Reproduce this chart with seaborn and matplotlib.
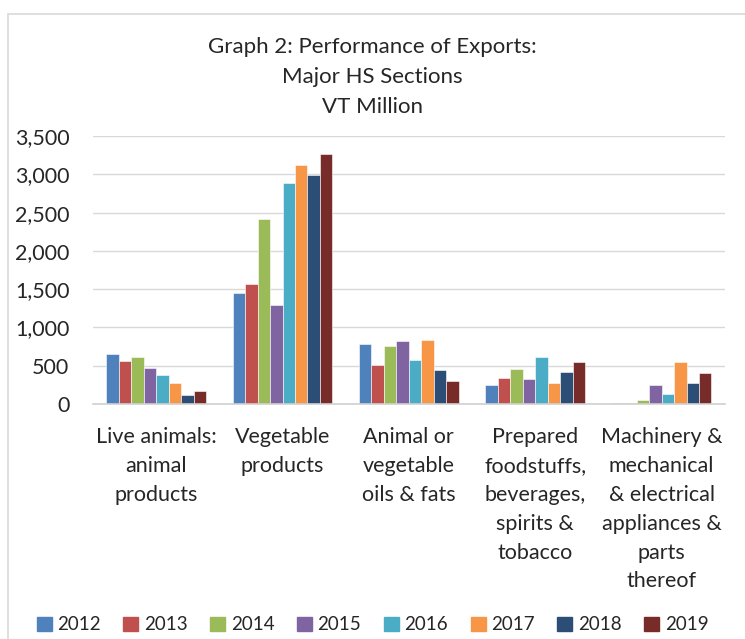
import matplotlib
matplotlib.use("Agg")
import matplotlib.pyplot as plt
import matplotlib.patches as mpatches
import pandas as pd
import seaborn as sns

categories = [
    "Live animals:\nanimal\nproducts",
    "Vegetable\nproducts",
    "Animal or\nvegetable\noils & fats",
    "Prepared\nfoodstuffs,\nbeverages,\nspirits &\ntobacco",
    "Machinery &\nmechanical\n& electrical\nappliances &\nparts\nthereof",
]
years = ["2012", "2013", "2014", "2015", "2016", "2017", "2018", "2019"]

# VT million, one list per year, in category order
v2012 = [648, 1443, 787, 248, 8]
v2013 = [557, 1570, 513, 339, 8]
v2014 = [609, 2417, 761, 457, 52]
v2015 = [474, 1291, 817, 326, 243]
v2016 = [378, 2887, 578, 609, 126]
v2017 = [274, 3122, 839, 274, 552]
v2018 = [113, 2996, 448, 422, 278]
v2019 = [170, 3265, 300, 552, 400]

colors = ["#4F81BD", "#C0504D", "#9BBB59", "#8064A2",
          "#4BACC6", "#F79646", "#2C4D75", "#772C2A"]

series = [v2012, v2013, v2014, v2015, v2016, v2017, v2018, v2019]
rows = []
for yr, vals in zip(years, series):
    for cat, v in zip(categories, vals):
        rows.append({"category": cat, "year": yr, "value": v})
df = pd.DataFrame(rows)

sns.set_style("white")
plt.rcParams["font.family"] = ["Lato", "DejaVu Sans"]

fig = plt.figure(figsize=(7.45, 6.39), dpi=100)
ax = fig.add_axes([0.1248, 0.368, 0.848, 0.419])

sns.barplot(data=df, x="category", y="value", hue="year", palette=colors,
            saturation=1, width=0.79, edgecolor="white", linewidth=0.4,
            legend=False, ax=ax)

ax.set_ylim(0, 3500)
ax.set_xlim(-0.5, len(categories) - 0.5)
ax.set_yticks(range(0, 3501, 500))
ax.set_yticklabels([f"{t:,}" for t in range(0, 3501, 500)], fontsize=15.5)
ax.yaxis.grid(True, color="#d9d9d9", linewidth=1)
ax.set_axisbelow(True)
for s in ["top", "right", "left"]:
    ax.spines[s].set_visible(False)
ax.spines["bottom"].set_color("#d0d0d0")
ax.spines["bottom"].set_linewidth(1.2)
ax.tick_params(axis="both", length=0)
ax.tick_params(axis="y", pad=17)
ax.set_xticks(range(len(categories)))
ax.set_xticklabels(categories, fontsize=15.5, linespacing=1.55, va="top")
ax.tick_params(axis="x", pad=17)
ax.set_xlabel("")
ax.set_ylabel("")

fig.text(0.5, 0.880, "Graph 2: Performance of Exports:\nMajor HS Sections\nVT Million",
         ha="center", va="center", fontsize=16, linespacing=1.62)

handles = [mpatches.Patch(color=c, label=y) for c, y in zip(colors, years)]
fig.legend(handles=handles, loc="center", bbox_to_anchor=(0.5, 0.022), ncol=8,
           frameon=False, fontsize=13.5, handlelength=0.8, handleheight=0.8,
           handletextpad=0.3, columnspacing=1.2)

fig.patches.append(mpatches.Rectangle((8 / 745, -0.01), 1.0, 1 - 14 / 639 + 0.01,
                                      transform=fig.transFigure, fill=False,
                                      edgecolor="#d9d9d9", linewidth=1.2))

fig.savefig("out.png", dpi=100)
